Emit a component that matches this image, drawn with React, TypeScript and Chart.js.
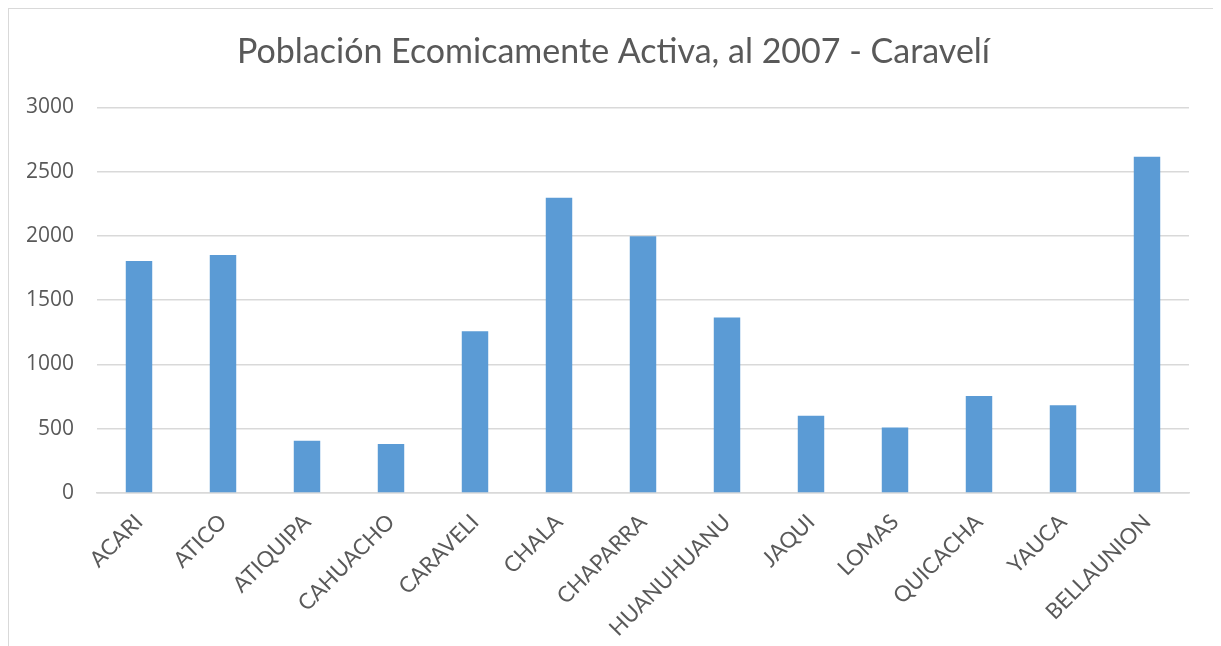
import React, { useEffect, useRef } from "react";
import { Chart, registerables } from "chart.js";

Chart.register(...registerables);

const TITLE = "Población Ecomicamente Activa, al 2007 - Caravelí";
const categories = [
  "ACARI", "ATICO", "ATIQUIPA", "CAHUACHO", "CARAVELI", "CHALA", "CHAPARRA",
  "HUANUHUANU", "JAQUI", "LOMAS", "QUICACHA", "YAUCA", "BELLAUNION",
];
const values = [1805, 1852, 407, 381, 1259, 2298, 1997, 1365, 601, 510, 754, 682, 2617];
const yMin = 0;
const yMax = 3000;
const yStep = 500;

const CANVAS_H = 680;

export default function App() {
  const ref = useRef<HTMLCanvasElement | null>(null);
  useEffect(() => {
    if (!ref.current) return;
    const font = "Lato, 'Open Sans', sans-serif";
    const chart = new Chart(ref.current, {
      type: "bar",
      data: {
        labels: categories,
        datasets: [
          {
            data: values,
            backgroundColor: "#5B9BD5",
            borderWidth: 0,
            categoryPercentage: 1,
            barPercentage: 0.315,
          },
        ],
      },
      options: {
        animation: false,
        responsive: true,
        maintainAspectRatio: false,
        layout: { padding: { left: 0, right: 0, top: 0, bottom: 0 } },
        plugins: {
          legend: { display: false },
          tooltip: { enabled: false },
          title: {
            display: true,
            text: TITLE,
            color: "#595959",
            font: { family: font, size: 34, weight: "normal" },
            padding: { top: 23, bottom: 34.6 },
          },
        },
        scales: {
          x: {
            grid: { display: false, drawTicks: false },
            border: { display: true, color: "#d9d9d9", width: 1.5 },
            ticks: {
              color: "#595959",
              font: { family: font, size: 22 },
              minRotation: 45,
              maxRotation: 45,
              padding: 16,
              autoSkip: false,
            },
            afterFit: (scale: any) => {
              scale.height = CANVAS_H - 484;
            },
          },
          y: {
            min: yMin,
            max: yMax,
            grid: { color: "#d9d9d9", lineWidth: 1.5, drawTicks: false },
            border: { display: false },
            ticks: {
              stepSize: yStep,
              color: "#595959",
              font: { family: "'Open Sans', sans-serif", size: 21 },
              padding: 23,
              callback: (v: any) => String(v),
            },
            afterFit: (scale: any) => {
              scale.width = 88;
            },
          },
          yRight: {
            position: "right",
            min: yMin,
            max: yMax,
            grid: { display: false, drawTicks: false },
            border: { display: false },
            ticks: { display: false },
            afterFit: (scale: any) => {
              scale.width = 29;
            },
          },
        },
      },
    });
    return () => chart.destroy();
  }, []);
  return (
    <div
      style={{
        width: 1209,
        height: CANVAS_H,
        border: "1px solid #d9d9d9",
        position: "relative",
        background: "#fff",
        boxSizing: "content-box",
      }}
    >
      <canvas ref={ref} />
    </div>
  );
}
